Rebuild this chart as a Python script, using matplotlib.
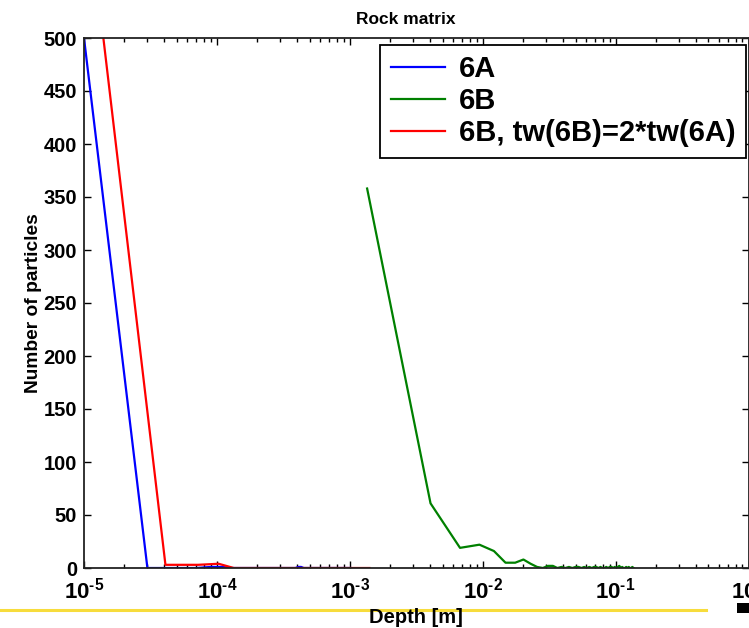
import matplotlib
matplotlib.use("Agg")
import matplotlib.pyplot as plt
from matplotlib.lines import Line2D
from matplotlib.patches import Rectangle
import numpy as np

plt.rcParams['font.family'] = ['Liberation Sans', 'DejaVu Sans']
plt.rcParams['font.weight'] = 'bold'
plt.rcParams['mathtext.fontset'] = 'custom'
plt.rcParams['mathtext.rm'] = 'Liberation Sans:bold'
plt.rcParams['mathtext.it'] = 'Liberation Sans:bold'
plt.rcParams['mathtext.bf'] = 'Liberation Sans:bold'
plt.rcParams['mathtext.default'] = 'rm'

# ---- data ----
title = "Rock matrix"
xlabel = "Depth [m]"
ylabel = "Number of particles"
labels = ["6A", "6B", "6B, tw(6B)=2*tw(6A)"]

# depth in units of 1e-5 m
blue_x_e5 = [1, 3, 5, 7, 9, 11, 13, 15, 17, 19, 21, 23, 25, 27, 29, 31, 33, 35, 37, 39,
             41, 43, 45, 47, 49, 51, 53, 55, 57, 59, 61, 63, 65, 67, 69, 71, 73, 75, 77, 79,
             81, 83, 85, 87, 89, 91, 93, 95, 97, 99, 101]
blue_y = [500, 0, 0, 0, 1, 1, 0, 0, 0, 0, 0, 0, 0, 0, 0, 0, 0, 0, 0, 0,
          1, 1, 0, 0, 0, 0, 0, 0, 0, 0, 0, 0, 0, 0, 0, 0, 0, 0, 0, 0,
          0, 0, 0, 0, 0, 0, 0, 0, 0, 0, 0]

# depth in units of 1e-3 m
green_x_e3 = [1.35, 4.05, 6.75, 9.45, 12.15, 14.85, 17.55, 20.25, 22.95, 25.65,
              28.35, 31.05, 33.75, 36.45, 39.15, 41.85, 44.55, 47.25, 49.95, 52.65,
              55.35, 58.05, 60.75, 63.45, 66.15, 68.85, 71.55, 74.25, 76.95, 79.65,
              82.35, 85.05, 87.75, 90.45, 93.15, 95.85, 98.55, 101.25, 103.95, 106.65,
              109.35, 112.05, 114.75, 117.45, 120.15, 122.85, 125.55, 128.25, 130.95, 133.65,
              136.35]
green_y = [358, 61, 19, 22, 16, 5, 5, 8, 4, 1,
           0, 2, 2, 0, 1, 0, 1, 0, 1, 1,
           0, 1, 0, 1, 0, 1, 1, 0, 1, 0,
           0, 1, 0, 1, 1, 0, 1, 0, 1, 2,
           0, 1, 0, 0, 1, 0, 1, 0, 0, 1,
           0]

# depth in units of 1e-5 m
red_x_e5 = [1.0, 4.1, 7.2, 10.3, 13.4, 16.5, 19.6, 22.7, 25.8, 28.9, 32.0, 35.1, 38.2,
            41.3, 44.4, 47.5, 50.6, 53.7, 56.8, 59.9, 63.0, 66.1, 69.2, 72.3, 75.4, 78.5,
            81.6, 84.7, 87.8, 90.9, 94.0, 97.1, 100.2, 103.3, 106.4, 109.5, 112.6, 115.7,
            118.8, 121.9, 125.0, 128.1, 131.2, 134.3, 137.4, 140.5]
red_y = [655, 3, 3, 4, 0, 0, 0, 0, 0, 0, 0, 0, 0,
         0, 0, 0, 0, 0, 0, 0, 0, 0, 0, 0, 0, 0,
         0, 0, 0, 0, 0, 0, 0, 0, 0, 0, 0, 0,
         0, 0, 0, 0, 0, 0, 0, 0]

yticks = [0, 50, 100, 150, 200, 250, 300, 350, 400, 450, 500]
xticks = [1e-5, 1e-4, 1e-3, 1e-2, 1e-1, 1]
xticklabels = [r'$10^{\text{-5}}$', r'$10^{\text{-4}}$', r'$10^{\text{-3}}$',
               r'$10^{\text{-2}}$', r'$10^{\text{-1}}$', r'$10^{\text{0}}$']

# ---- figure ----
fig = plt.figure(figsize=(7.49, 6.28), dpi=100)

# slide decorations (behind the axes texts)
fig.add_artist(Line2D([0, 706/749], [1-610/628, 1-610/628], transform=fig.transFigure,
                      color='#f7dc3c', lw=2.2, zorder=-5))
fig.add_artist(Rectangle((737/749, 1-613/628), 12/749, 10/628, transform=fig.transFigure,
                         facecolor='black', edgecolor='none', zorder=-5))

ax = fig.add_axes([84/749, 1-568/628, 664.5/749, 530/628])
ax.patch.set_alpha(0)

ax.plot(np.array(blue_x_e5)*1e-5, blue_y, color='#0000ff', lw=1.6, label=labels[0])
ax.plot(np.array(green_x_e3)*1e-3, green_y, color='#008000', lw=1.6, label=labels[1])
ax.plot(np.array(red_x_e5)*1e-5, red_y, color='#ff0000', lw=1.6, label=labels[2])

ax.set_xscale('log')
ax.set_xlim(1e-5, 1)
ax.set_ylim(0, 500)
ax.set_yticks(yticks)
ax.set_xticks(xticks)
ax.set_xticklabels(xticklabels)
ax.tick_params(axis='both', which='both', direction='in', top=True, right=True,
               width=1.0, colors='black')
ax.tick_params(axis='y', labelsize=14.5, pad=5)
ax.tick_params(axis='x', labelsize=16, pad=7)
ax.tick_params(which='major', length=5)
ax.tick_params(which='minor', length=3)
for sp in ax.spines.values():
    sp.set_linewidth(1.3)
    sp.set_color('#222222')

ax.set_title(title, fontsize=12.5, fontweight='bold', pad=10, x=(406-84)/664.5)
ax.set_xlabel(xlabel, fontsize=14.5, fontweight='bold', labelpad=3)
ax.set_ylabel(ylabel, fontsize=13.8, fontweight='bold', labelpad=1)

leg = ax.legend(loc='upper right', bbox_to_anchor=(746/749, 1-45/628),
                bbox_transform=fig.transFigure, fontsize=21, frameon=True,
                fancybox=False, edgecolor='black', framealpha=1,
                handlelength=1.85, handletextpad=0.5, labelspacing=0.14,
                borderpad=0.35, borderaxespad=0)
leg.get_frame().set_linewidth(1.3)
for t in leg.get_texts():
    t.set_fontweight('bold')

fig.savefig('out.png', dpi=100)
